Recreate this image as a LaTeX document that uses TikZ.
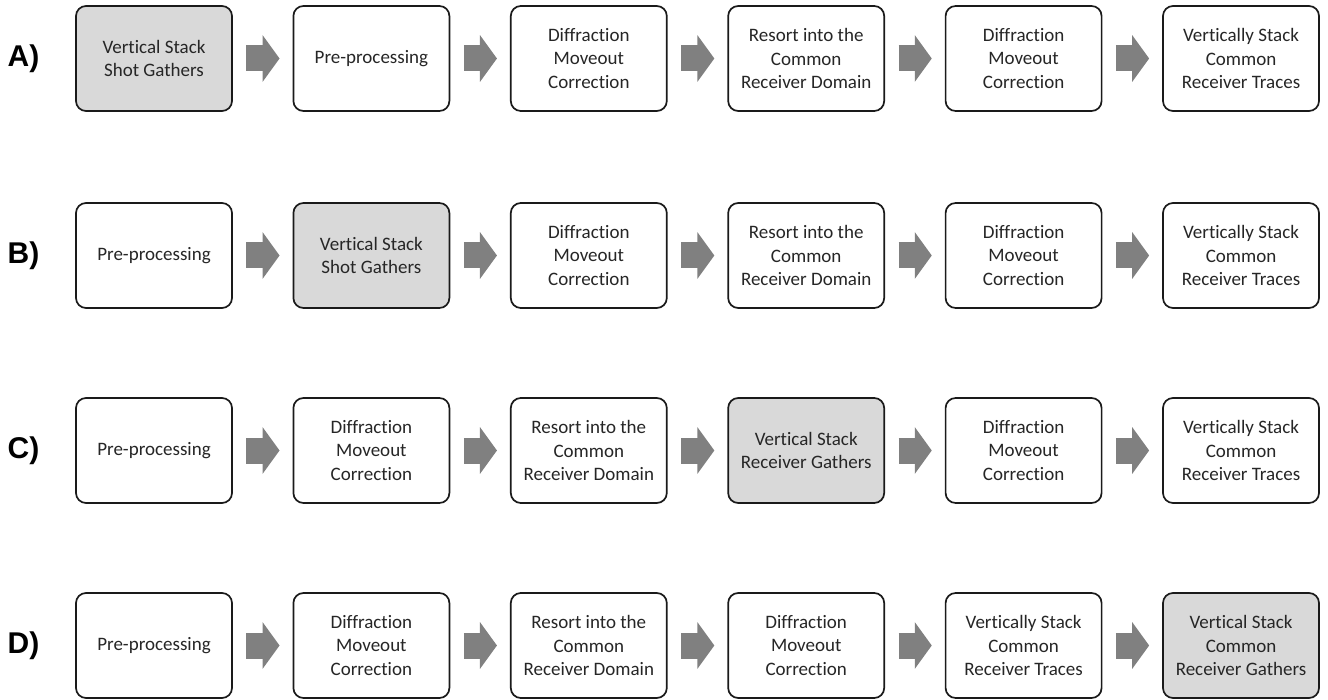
\documentclass[tikz,border=0pt]{standalone}
\usepackage{fontspec}
\newfontfamily\boxfont[Ligatures={NoCommon,NoRare}]{Carlito}
\newfontfamily\labfont{Liberation Sans}
\usetikzlibrary{arrows.meta}
\definecolor{boxgray}{HTML}{D9D9D9}
\definecolor{arrgray}{HTML}{808080}
\definecolor{edge}{HTML}{1A1A1A}
\tikzset{
  stepbox/.style={draw=edge, line width=1.7pt, rounded corners=10pt, fill=white,
    minimum width=156pt, minimum height=105pt, inner sep=0pt, align=center,
    font=\boxfont\fontsize{19}{23.3}\selectfont, text=black!85},
  hilite/.style={stepbox, fill=boxgray},
  rowlab/.style={font=\labfont\bfseries\fontsize{30}{32}\selectfont, inner sep=0pt},
  flow/.style={draw=arrgray, line width=26pt, line cap=butt,
    -{Triangle[width=46pt,length=17pt]}, arrgray,
    shorten <=13.5pt, shorten >=13pt},
}
\begin{document}
\begin{tikzpicture}[x=1pt,y=-1pt]
\useasboundingbox (0,0) rectangle (1328,700);
% columns: 154, 371.4, 588.8, 806.2, 1023.6, 1241
% rows: 58.5, 255.5, 450.5, 645.5
% Row A
\node[rowlab] (la) at (23.5,58.5) {A)};
\node[hilite]  (a1) at (154,58.5)   {Vertical Stack\\Shot Gathers};
\node[stepbox] (a2) at (371.4,58.5) {Pre-processing};
\node[stepbox] (a3) at (588.8,58.5) {Diffraction\\Moveout\\Correction};
\node[stepbox] (a4) at (806.2,58.5) {Resort into the\\Common\\Receiver Domain};
\node[stepbox] (a5) at (1023.6,58.5) {Diffraction\\Moveout\\Correction};
\node[stepbox] (a6) at (1241,58.5) {Vertically Stack\\Common\\Receiver Traces};
% Row B
\node[rowlab] (lb) at (23.5,255.5) {B)};
\node[stepbox] (b1) at (154,255.5)   {Pre-processing};
\node[hilite]  (b2) at (371.4,255.5) {Vertical Stack\\Shot Gathers};
\node[stepbox] (b3) at (588.8,255.5) {Diffraction\\Moveout\\Correction};
\node[stepbox] (b4) at (806.2,255.5) {Resort into the\\Common\\Receiver Domain};
\node[stepbox] (b5) at (1023.6,255.5) {Diffraction\\Moveout\\Correction};
\node[stepbox] (b6) at (1241,255.5) {Vertically Stack\\Common\\Receiver Traces};
% Row C
\node[rowlab] (lc) at (23.5,450.5) {C)};
\node[stepbox] (c1) at (154,450.5)   {Pre-processing};
\node[stepbox] (c2) at (371.4,450.5) {Diffraction\\Moveout\\Correction};
\node[stepbox] (c3) at (588.8,450.5) {Resort into the\\Common\\Receiver Domain};
\node[hilite]  (c4) at (806.2,450.5) {Vertical Stack\\Receiver Gathers};
\node[stepbox] (c5) at (1023.6,450.5) {Diffraction\\Moveout\\Correction};
\node[stepbox] (c6) at (1241,450.5) {Vertically Stack\\Common\\Receiver Traces};
% Row D
\node[rowlab] (ld) at (23.5,645.5) {D)};
\node[stepbox] (d1) at (154,645.5)   {Pre-processing};
\node[stepbox] (d2) at (371.4,645.5) {Diffraction\\Moveout\\Correction};
\node[stepbox] (d3) at (588.8,645.5) {Resort into the\\Common\\Receiver Domain};
\node[stepbox] (d4) at (806.2,645.5) {Diffraction\\Moveout\\Correction};
\node[stepbox] (d5) at (1023.6,645.5) {Vertically Stack\\Common\\Receiver Traces};
\node[hilite]  (d6) at (1241,645.5) {Vertical Stack\\Common\\Receiver Gathers};
% arrows
\foreach \r in {a,b,c,d}{
  \draw[flow] (\r1) -- (\r2);
  \draw[flow] (\r2) -- (\r3);
  \draw[flow] (\r3) -- (\r4);
  \draw[flow] (\r4) -- (\r5);
  \draw[flow] (\r5) -- (\r6);
}
\end{tikzpicture}
\end{document}
